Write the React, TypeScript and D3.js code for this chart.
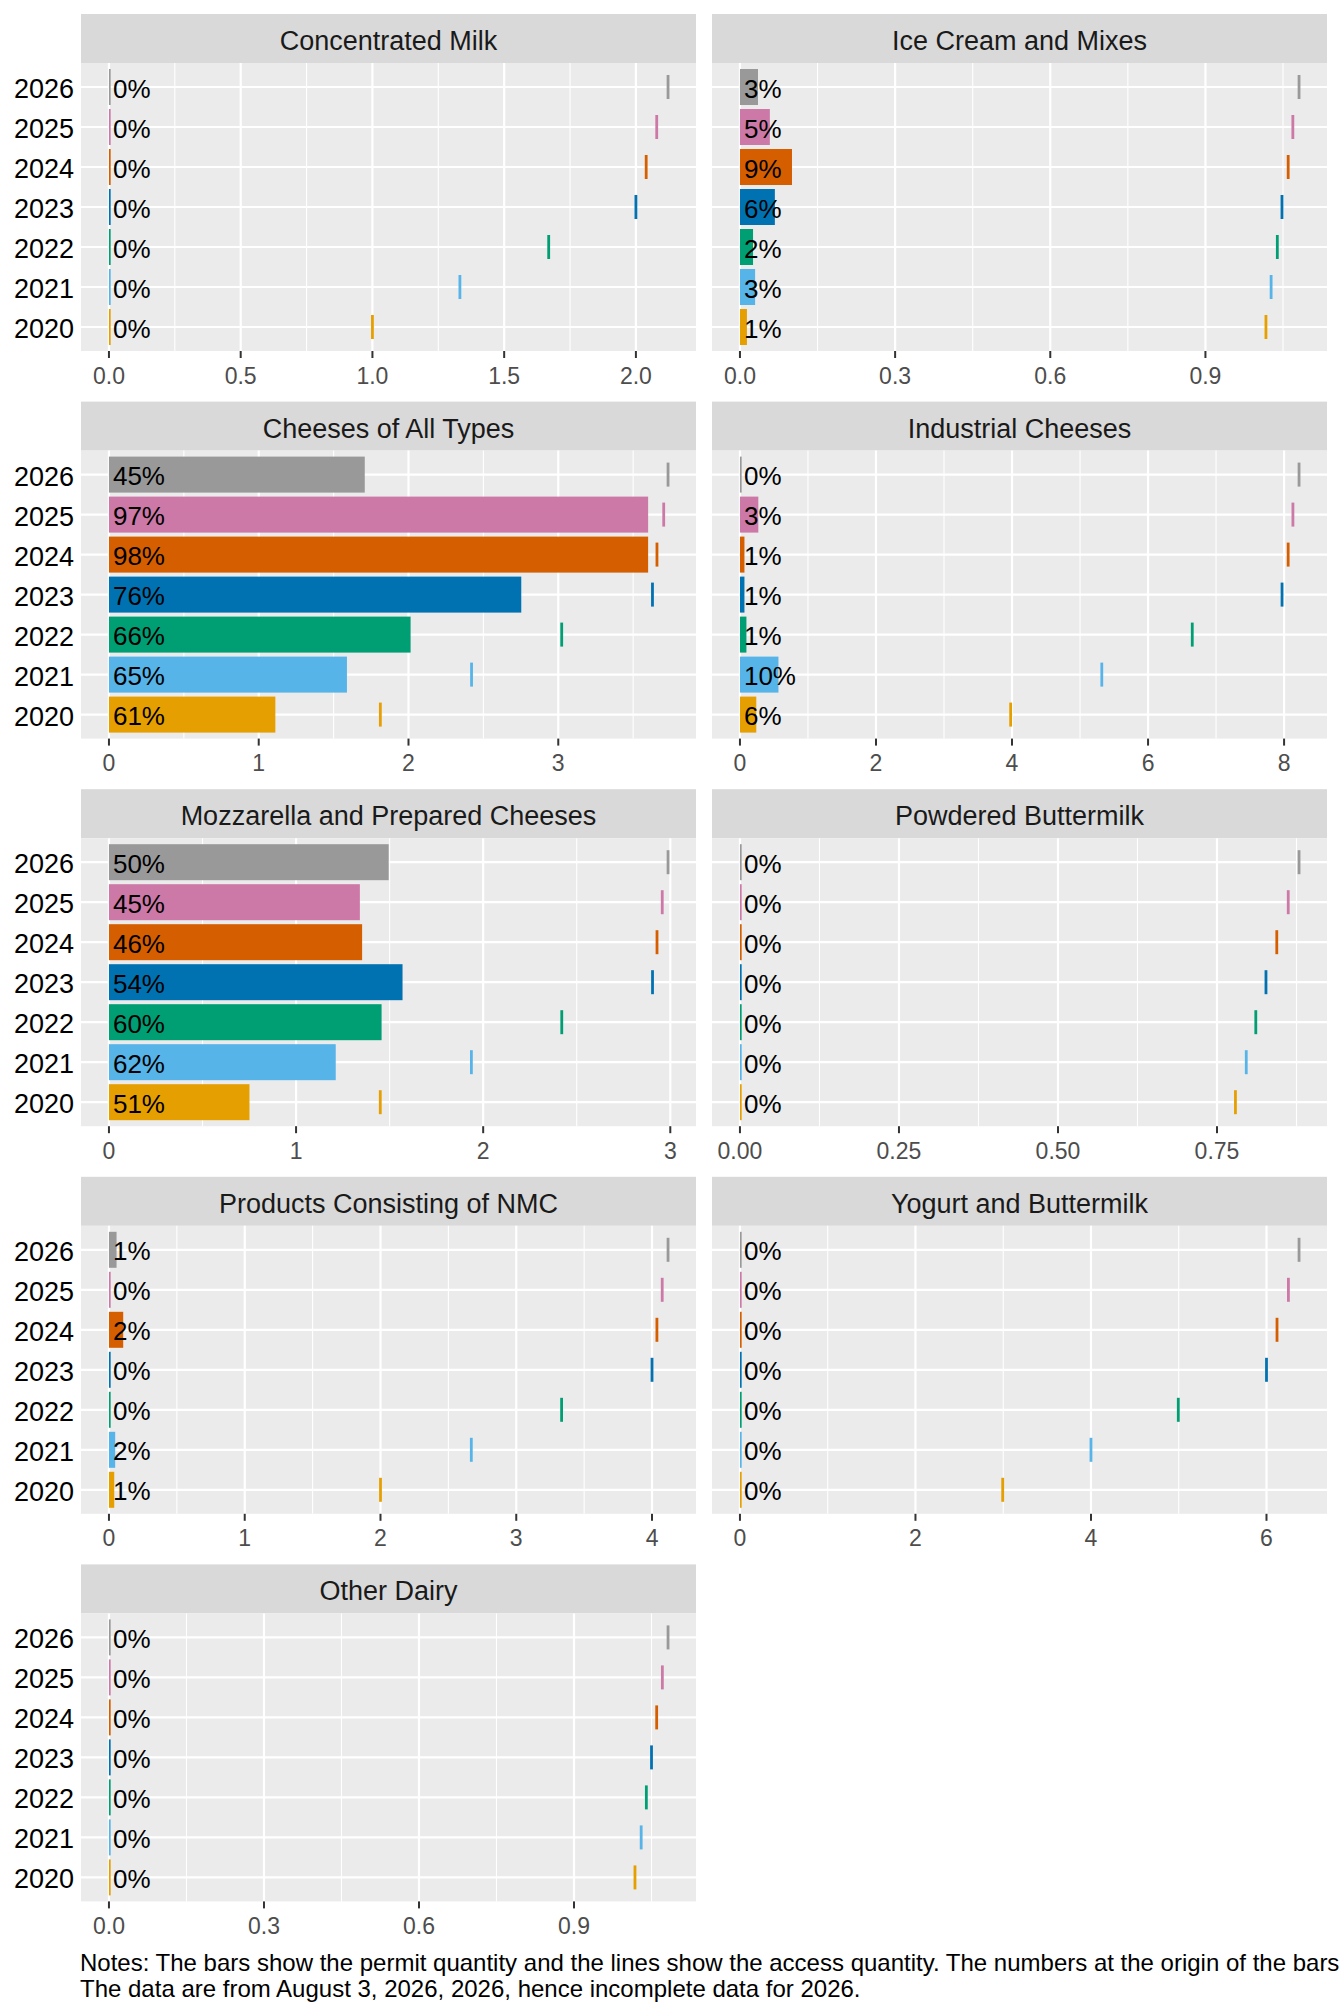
import { useEffect, useRef } from "react";
import * as d3 from "d3";

// years on the y axis, bottom to top
const years = ["2020", "2021", "2022", "2023", "2024", "2025", "2026"];
const yearColors = ["#E69F00", "#56B4E9", "#009E73", "#0072B2", "#D55E00", "#CC79A7", "#999999"];

const titles = [
  "Concentrated Milk",
  "Ice Cream and Mixes",
  "Cheeses of All Types",
  "Industrial Cheeses",
  "Mozzarella and Prepared Cheeses",
  "Powdered Buttermilk",
  "Products Consisting of NMC",
  "Yogurt and Buttermilk",
  "Other Dairy",
];

// permit quantity (bars), per panel, 2020..2026
const permitConcMilk = [0, 0, 0, 0, 0, 0, 0];
const permitIceCream = [0.0135, 0.0293, 0.0253, 0.0675, 0.1006, 0.0578, 0.0349];
const permitCheeses = [1.111, 1.589, 2.014, 2.753, 3.6, 3.6, 1.708];
const permitIndustrial = [0.24, 0.566, 0.095, 0.066, 0.066, 0.27, 0];
const permitMozzarella = [0.751, 1.212, 1.457, 1.569, 1.353, 1.341, 1.495];
const permitPowdered = [0, 0, 0, 0, 0, 0, 0];
const permitNmc = [0.039, 0.046, 0, 0, 0.105, 0, 0.056];
const permitYogurt = [0, 0, 0, 0, 0, 0, 0];
const permitOther = [0, 0, 0, 0, 0, 0, 0];

// access quantity (short lines)
const accessConcMilk = [1.0, 1.332, 1.669, 2.0, 2.039, 2.079, 2.122];
const accessIceCream = [1.017, 1.027, 1.039, 1.048, 1.06, 1.069, 1.081];
const accessCheeses = [1.812, 2.421, 3.023, 3.629, 3.659, 3.704, 3.733];
const accessIndustrial = [3.98, 5.32, 6.65, 7.97, 8.06, 8.13, 8.22];
const accessMozzarella = [1.45, 1.937, 2.42, 2.905, 2.929, 2.957, 2.988];
const accessPowdered = [0.779, 0.796, 0.811, 0.827, 0.844, 0.862, 0.879];
const accessNmc = [2.0, 2.669, 3.334, 4.0, 4.036, 4.075, 4.118];
const accessYogurt = [2.994, 4.0, 4.995, 6.0, 6.12, 6.25, 6.371];
const accessOther = [1.018, 1.03, 1.04, 1.05, 1.06, 1.071, 1.082];

// share labels at the origin of the bars
const zeroLabels = ["0%", "0%", "0%", "0%", "0%", "0%", "0%"];
const labelsIceCream = ["1%", "3%", "2%", "6%", "9%", "5%", "3%"];
const labelsCheeses = ["61%", "65%", "66%", "76%", "98%", "97%", "45%"];
const labelsIndustrial = ["6%", "10%", "1%", "1%", "1%", "3%", "0%"];
const labelsMozzarella = ["51%", "62%", "60%", "54%", "46%", "45%", "50%"];
const labelsNmc = ["1%", "2%", "0%", "0%", "2%", "0%", "1%"];

// x-axis breaks and their labels
const ticksConcMilk = [0, 0.5, 1, 1.5, 2];
const tickLabelsConcMilk = ["0.0", "0.5", "1.0", "1.5", "2.0"];
const ticksTenths = [0, 0.3, 0.6, 0.9];
const tickLabelsTenths = ["0.0", "0.3", "0.6", "0.9"];
const ticksCheeses = [0, 1, 2, 3];
const tickLabelsCheeses = ["0", "1", "2", "3"];
const ticksIndustrial = [0, 2, 4, 6, 8];
const tickLabelsIndustrial = ["0", "2", "4", "6", "8"];
const ticksPowdered = [0, 0.25, 0.5, 0.75];
const tickLabelsPowdered = ["0.00", "0.25", "0.50", "0.75"];
const ticksNmc = [0, 1, 2, 3, 4];
const tickLabelsNmc = ["0", "1", "2", "3", "4"];
const ticksYogurt = [0, 2, 4, 6];
const tickLabelsYogurt = ["0", "2", "4", "6"];

const notes = [
  "Notes: The bars show the permit quantity and the lines show the access quantity. The numbers at the origin of the bars show the permit quantity as a share of the access quantity.",
  "The data are from August 3, 2026, 2026, hence incomplete data for 2026.",
];

type Panel = {
  title: string;
  permit: number[];
  access: number[];
  labels: string[];
  ticks: number[];
  tickLabels: string[];
};

const panels: Panel[] = [
  { title: titles[0], permit: permitConcMilk, access: accessConcMilk, labels: zeroLabels, ticks: ticksConcMilk, tickLabels: tickLabelsConcMilk },
  { title: titles[1], permit: permitIceCream, access: accessIceCream, labels: labelsIceCream, ticks: ticksTenths, tickLabels: tickLabelsTenths },
  { title: titles[2], permit: permitCheeses, access: accessCheeses, labels: labelsCheeses, ticks: ticksCheeses, tickLabels: tickLabelsCheeses },
  { title: titles[3], permit: permitIndustrial, access: accessIndustrial, labels: labelsIndustrial, ticks: ticksIndustrial, tickLabels: tickLabelsIndustrial },
  { title: titles[4], permit: permitMozzarella, access: accessMozzarella, labels: labelsMozzarella, ticks: ticksCheeses, tickLabels: tickLabelsCheeses },
  { title: titles[5], permit: permitPowdered, access: accessPowdered, labels: zeroLabels, ticks: ticksPowdered, tickLabels: tickLabelsPowdered },
  { title: titles[6], permit: permitNmc, access: accessNmc, labels: labelsNmc, ticks: ticksNmc, tickLabels: tickLabelsNmc },
  { title: titles[7], permit: permitYogurt, access: accessYogurt, labels: zeroLabels, ticks: ticksYogurt, tickLabels: tickLabelsYogurt },
  { title: titles[8], permit: permitOther, access: accessOther, labels: zeroLabels, ticks: ticksTenths, tickLabels: tickLabelsTenths },
];

const FONT = "'Liberation Sans', Arial, Helvetica, sans-serif";

const App = () => {
  const svgRef = useRef<SVGSVGElement | null>(null);

  useEffect(() => {
    if (!svgRef.current) return;
    document.body.style.margin = "0";

    const width = 1344;
    const height = 2016;
    const colX = [81, 712];
    const panelW = 615;
    const firstTop = 14;
    const rowPitch = 387.6;
    const stripH = 49;
    const panelH = 288;

    const svg = d3.select(svgRef.current);
    svg.selectAll("*").remove();
    svg.attr("viewBox", `0 0 ${width} ${height}`).attr("width", width).attr("height", height);

    svg.append("rect").attr("width", width).attr("height", height).attr("fill", "#ffffff");

    panels.forEach((p, i) => {
      const col = i % 2;
      const row = Math.floor(i / 2);
      const x0 = colX[col];
      const stripTop = firstTop + row * rowPitch;
      const top = stripTop + stripH;
      const bottom = top + panelH;

      const maxVal = d3.max([...p.permit, ...p.access])!;
      const x = d3
        .scaleLinear()
        .domain([-0.05 * maxVal, maxVal * 1.05])
        .range([x0, x0 + panelW]);

      const y = d3.scalePoint<string>().domain(years).range([bottom, top]).padding(0.6);
      const step = y.step();

      const g = svg.append("g");

      // strip
      g.append("rect")
        .attr("x", x0)
        .attr("y", stripTop)
        .attr("width", panelW)
        .attr("height", stripH)
        .attr("fill", "#D9D9D9");
      g.append("text")
        .attr("x", x0 + panelW / 2)
        .attr("y", stripTop + 36)
        .attr("text-anchor", "middle")
        .attr("font-family", FONT)
        .attr("font-size", 27)
        .attr("fill", "#1A1A1A")
        .text(p.title);

      // panel background
      g.append("rect")
        .attr("x", x0)
        .attr("y", top)
        .attr("width", panelW)
        .attr("height", panelH)
        .attr("fill", "#EBEBEB");

      // minor grid: midpoints between breaks, plus one beyond each end if it fits
      const tstep = p.ticks[1] - p.ticks[0];
      const [d0, d1] = x.domain();
      const minors: number[] = [];
      for (let k = -1; k < p.ticks.length; k++) {
        const m = p.ticks[0] + (k + 0.5) * tstep;
        if (m > d0 && m < d1) minors.push(m);
      }
      g.selectAll(".minor")
        .data(minors)
        .join("line")
        .attr("x1", (d) => x(d))
        .attr("x2", (d) => x(d))
        .attr("y1", top)
        .attr("y2", bottom)
        .attr("stroke", "#ffffff")
        .attr("stroke-width", 1.1);

      g.selectAll(".major-x")
        .data(p.ticks)
        .join("line")
        .attr("x1", (d) => x(d))
        .attr("x2", (d) => x(d))
        .attr("y1", top)
        .attr("y2", bottom)
        .attr("stroke", "#ffffff")
        .attr("stroke-width", 2.2);

      g.selectAll(".major-y")
        .data(years)
        .join("line")
        .attr("x1", x0)
        .attr("x2", x0 + panelW)
        .attr("y1", (d) => y(d)!)
        .attr("y2", (d) => y(d)!)
        .attr("stroke", "#ffffff")
        .attr("stroke-width", 2.2);

      // bars (permit)
      g.selectAll(".bar")
        .data(p.permit)
        .join("rect")
        .attr("x", x(0))
        .attr("y", (_, j) => y(years[j])! - step * 0.45)
        .attr("width", (d) => Math.max(x(d) - x(0), 1.7))
        .attr("height", step * 0.9)
        .attr("fill", (_, j) => yearColors[j]);

      // access lines
      g.selectAll(".access")
        .data(p.access)
        .join("line")
        .attr("x1", (d) => x(d))
        .attr("x2", (d) => x(d))
        .attr("y1", (_, j) => y(years[j])! - step * 0.3)
        .attr("y2", (_, j) => y(years[j])! + step * 0.3)
        .attr("stroke", (_, j) => yearColors[j])
        .attr("stroke-width", 2.8);

      // share labels
      g.selectAll(".share")
        .data(p.labels)
        .join("text")
        .attr("x", x(0) + 4)
        .attr("y", (_, j) => y(years[j])! + 10.5)
        .attr("font-family", FONT)
        .attr("font-size", 26)
        .attr("fill", "#000000")
        .text((d) => d);

      // x axis
      const ax = g.append("g");
      ax.selectAll("line")
        .data(p.ticks)
        .join("line")
        .attr("x1", (d) => x(d))
        .attr("x2", (d) => x(d))
        .attr("y1", bottom)
        .attr("y2", bottom + 7)
        .attr("stroke", "#333333")
        .attr("stroke-width", 2);
      ax.selectAll("text")
        .data(p.ticks)
        .join("text")
        .attr("x", (d) => x(d))
        .attr("y", bottom + 32.5)
        .attr("text-anchor", "middle")
        .attr("font-family", FONT)
        .attr("font-size", 23)
        .attr("fill", "#4D4D4D")
        .text((_, j) => p.tickLabels[j]);

      // y axis labels only on the left column, no tick marks
      if (col === 0) {
        g.append("g")
          .selectAll("text")
          .data(years)
          .join("text")
          .attr("x", 74)
          .attr("y", (d) => y(d)! + 11)
          .attr("text-anchor", "end")
          .attr("font-family", FONT)
          .attr("font-size", 27)
          .attr("fill", "#000000")
          .text((d) => d);
      }
    });

    svg.selectAll(".note")
      .data(notes)
      .join("text")
      .attr("x", 80)
      .attr("y", (_, j) => 1970.7 + j * 26)
      .attr("font-family", FONT)
      .attr("font-size", 24)
      .attr("fill", "#000000")
      .text((d) => d);
  }, []);

  return <svg ref={svgRef} style={{ display: "block" }} />;
};

export default App;
